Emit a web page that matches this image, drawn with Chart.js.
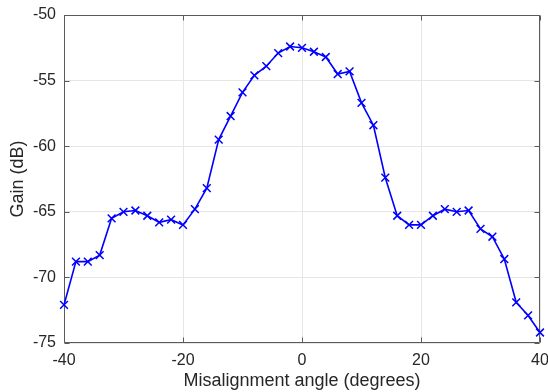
<!DOCTYPE html>
<html>
<head>
<meta charset="utf-8">
<script src="https://cdn.jsdelivr.net/npm/chart.js@4/dist/chart.umd.min.js"></script>
<style>
  html, body { margin: 0; padding: 0; background: #fff; }
  #wrap { width: 548px; height: 392px; }
</style>
</head>
<body>
<div id="wrap"><canvas id="myChart" width="548" height="392"></canvas></div>
<script>
const angles = [-40, -38, -36, -34, -32, -30, -28, -26, -24, -22, -20, -18, -16, -14, -12, -10, -8, -6, -4, -2,
    0, 2, 4, 6, 8, 10, 12, 14, 16, 18, 20, 22, 24, 26, 28, 30, 32, 34, 36, 38, 40];
const gain = [-72.1, -68.8, -68.8, -68.3, -65.5, -65.0, -64.9, -65.3, -65.8, -65.6, -66.0, -64.8, -63.2, -59.5, -57.7, -55.9, -54.6, -53.9, -52.9, -52.4,
    -52.5, -52.8, -53.2, -54.5, -54.3, -56.7, -58.4, -62.4, -65.3, -66.0, -66.0, -65.3, -64.8, -65.0, -64.9, -66.3, -66.9, -68.6, -71.9, -72.9, -74.2];
const xTicks = [-40, -20, 0, 20, 40];
const yTicks = [-75, -70, -65, -60, -55, -50];

const axisColor = '#5a5a5a';
const textColor = '#262626';
const fontFamily = 'Liberation Sans, Arial, Helvetica, sans-serif';

// box round the axes with inward ticks, like matlab
const boxPlugin = {
    id: 'box',
    beforeDatasetsDraw(chart) {
        const {ctx, chartArea: a, scales} = chart;
        const left = Math.round(a.left) + 0.5, right = Math.round(a.right) - 0.5;
        const top = Math.round(a.top) + 0.5, bottom = Math.round(a.bottom) - 0.5;
        ctx.save();
        ctx.strokeStyle = axisColor;
        ctx.lineWidth = 1;
        ctx.beginPath();
        ctx.rect(left, top, right - left, bottom - top);
        const len = 5;
        xTicks.forEach(v => {
            const px = Math.round(scales.x.getPixelForValue(v)) + 0.5;
            ctx.moveTo(px, bottom); ctx.lineTo(px, bottom - len);
            ctx.moveTo(px, top); ctx.lineTo(px, top + len);
        });
        yTicks.forEach(v => {
            const py = Math.round(scales.y.getPixelForValue(v)) + 0.5;
            ctx.moveTo(left, py); ctx.lineTo(left + len, py);
            ctx.moveTo(right, py); ctx.lineTo(right - len, py);
        });
        ctx.stroke();
        ctx.restore();
    }
};

const data = {
    datasets: [{
        data: angles.map((a, i) => ({x: a, y: gain[i]})),
        borderColor: '#0000ff',
        borderWidth: 1.6,
        pointStyle: 'crossRot',
        pointRadius: 5.5,
        pointBorderWidth: 1.5,
        pointBorderColor: '#0000ff',
        pointBackgroundColor: '#0000ff',
        tension: 0,
        clip: false
    }]
};

const config = {
    type: 'line',
    data: data,
    plugins: [boxPlugin],
    options: {
        responsive: false,
        animation: false,
        devicePixelRatio: 1,
        layout: { padding: { top: 15, right: 8, bottom: 0, left: 0 } },
        plugins: {
            legend: { display: false },
            tooltip: { enabled: false }
        },
        scales: {
            x: {
                type: 'linear',
                min: -40,
                max: 40,
                afterFit: s => { s.height = 49; s.paddingLeft = 0; s.paddingRight = 0; },
                afterBuildTicks: s => { s.ticks = xTicks.map(v => ({value: v})); },
                grid: { color: '#e6e6e6', drawTicks: false },
                border: { display: false },
                ticks: { color: textColor, padding: 8, maxRotation: 0, font: { family: fontFamily, size: 16 } },
                title: {
                    display: true,
                    text: 'Misalignment angle (degrees)',
                    color: textColor,
                    padding: { top: 0, bottom: 0 },
                    font: { family: fontFamily, size: 18 }
                }
            },
            y: {
                type: 'linear',
                min: -75,
                max: -50,
                afterFit: s => { s.width = 64; s.paddingTop = 0; s.paddingBottom = 0; },
                afterBuildTicks: s => { s.ticks = yTicks.map(v => ({value: v})); },
                grid: { color: '#e6e6e6', drawTicks: false },
                border: { display: false },
                ticks: { color: textColor, padding: 8, font: { family: fontFamily, size: 16 } },
                title: {
                    display: true,
                    text: 'Gain (dB)',
                    color: textColor,
                    padding: { top: 7, bottom: 0 },
                    font: { family: fontFamily, size: 18 }
                }
            }
        }
    }
};

const ctx = document.getElementById('myChart').getContext('2d');
new Chart(ctx, config);
</script>
</body>
</html>
